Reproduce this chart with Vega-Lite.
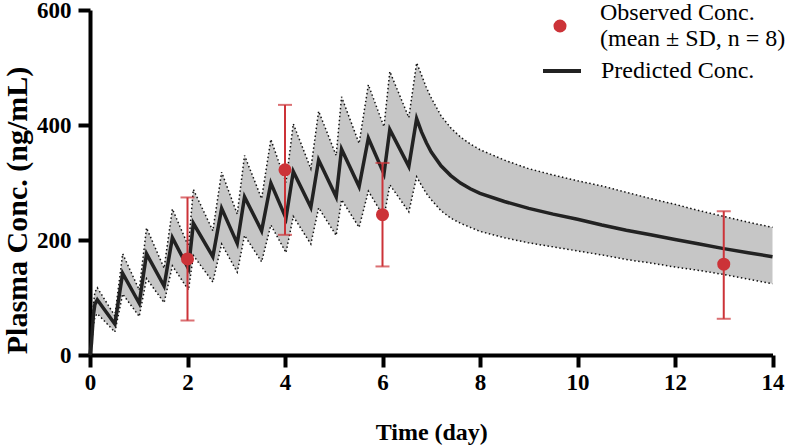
{
  "$schema": "https://vega.github.io/schema/vega-lite/v6.json",
  "width": 682.5,
  "height": 345,
  "autosize": "none",
  "padding": {"left": 90, "top": 10, "right": 14.5, "bottom": 91},
  "background": "white",
  "datasets": {
    "pred": [
      {"t": 0, "pred": 0, "lo": 0, "hi": 0},
      {"t": 0.03, "pred": 20, "lo": 15, "hi": 25},
      {"t": 0.07, "pred": 70, "lo": 52, "hi": 87},
      {"t": 0.1, "pred": 88, "lo": 66, "hi": 109},
      {"t": 0.15, "pred": 96, "lo": 72, "hi": 117},
      {"t": 0.51, "pred": 54, "lo": 40, "hi": 68},
      {"t": 0.67, "pred": 142, "lo": 106, "hi": 176},
      {"t": 1.01, "pred": 90, "lo": 67, "hi": 113},
      {"t": 1.16, "pred": 176, "lo": 133, "hi": 221},
      {"t": 1.52, "pred": 120, "lo": 91, "hi": 151},
      {"t": 1.69, "pred": 204, "lo": 155, "hi": 254},
      {"t": 2.02, "pred": 150, "lo": 113, "hi": 189},
      {"t": 2.12, "pred": 229, "lo": 173, "hi": 288},
      {"t": 2.52, "pred": 171, "lo": 127, "hi": 216},
      {"t": 2.7, "pred": 255, "lo": 193, "hi": 318},
      {"t": 3.02, "pred": 194, "lo": 144, "hi": 245},
      {"t": 3.17, "pred": 275, "lo": 208, "hi": 347},
      {"t": 3.52, "pred": 216, "lo": 162, "hi": 272},
      {"t": 3.71, "pred": 299, "lo": 226, "hi": 375},
      {"t": 4.02, "pred": 238, "lo": 178, "hi": 300},
      {"t": 4.17, "pred": 319, "lo": 241, "hi": 402},
      {"t": 4.53, "pred": 257, "lo": 193, "hi": 324},
      {"t": 4.69, "pred": 339, "lo": 256, "hi": 424},
      {"t": 5.05, "pred": 275, "lo": 208, "hi": 347},
      {"t": 5.16, "pred": 358, "lo": 270, "hi": 449},
      {"t": 5.52, "pred": 293, "lo": 222, "hi": 368},
      {"t": 5.71, "pred": 377, "lo": 285, "hi": 470},
      {"t": 6.03, "pred": 315, "lo": 240, "hi": 397},
      {"t": 6.15, "pred": 392, "lo": 296, "hi": 493},
      {"t": 6.54, "pred": 328, "lo": 249, "hi": 413},
      {"t": 6.7, "pred": 411, "lo": 310, "hi": 508},
      {"t": 6.8, "pred": 388, "lo": 295, "hi": 487},
      {"t": 6.9, "pred": 369, "lo": 281, "hi": 465},
      {"t": 7.0, "pred": 353, "lo": 270, "hi": 447},
      {"t": 7.2, "pred": 329, "lo": 251, "hi": 416},
      {"t": 7.4, "pred": 312, "lo": 238, "hi": 395},
      {"t": 7.6, "pred": 299, "lo": 229, "hi": 379},
      {"t": 7.8, "pred": 289, "lo": 222, "hi": 367},
      {"t": 8.0, "pred": 281, "lo": 215, "hi": 357},
      {"t": 8.5, "pred": 267, "lo": 204, "hi": 339},
      {"t": 9.0, "pred": 255, "lo": 195, "hi": 324},
      {"t": 9.5, "pred": 245, "lo": 188, "hi": 313},
      {"t": 10.0, "pred": 236, "lo": 181, "hi": 303},
      {"t": 10.5, "pred": 226, "lo": 174, "hi": 294},
      {"t": 11.0, "pred": 217, "lo": 166, "hi": 283},
      {"t": 11.5, "pred": 209, "lo": 160, "hi": 272},
      {"t": 12.0, "pred": 201, "lo": 153, "hi": 262},
      {"t": 12.5, "pred": 193, "lo": 147, "hi": 251},
      {"t": 13.0, "pred": 185, "lo": 140, "hi": 241},
      {"t": 13.5, "pred": 178, "lo": 132, "hi": 231},
      {"t": 14.0, "pred": 171, "lo": 124, "hi": 222}
    ],
    "obs": [
      {"t": 2, "mean": 167, "lo": 60, "hi": 274},
      {"t": 4, "mean": 322, "lo": 209, "hi": 435},
      {"t": 6, "mean": 244, "lo": 154, "hi": 334},
      {"t": 13, "mean": 158, "lo": 63, "hi": 250}
    ]
  },
  "config": {
    "view": {"stroke": null},
    "font": "Liberation Serif",
    "axis": {
      "grid": false,
      "domainColor": "#000",
      "domainWidth": 4,
      "tickColor": "#000",
      "tickWidth": 4,
      "tickSize": 12,
      "labelFont": "Liberation Serif",
      "labelFontWeight": "bold",
      "labelFontSize": 23,
      "labelColor": "#000",
      "titleFont": "Liberation Serif",
      "titleFontWeight": "bold",
      "titleFontSize": 24,
      "titleColor": "#000"
    },
    "legend": {
      "title": null,
      "padding": 0,
      "labelFont": "Liberation Serif",
      "labelFontSize": 24,
      "labelColor": "#000",
      "labelLimit": 400
    }
  },
  "encoding": {
    "x": {
      "field": "t",
      "type": "quantitative",
      "scale": {"domain": [0, 14], "nice": false},
      "axis": {"values": [0, 2, 4, 6, 8, 10, 12, 14], "title": "Time (day)", "labelPadding": 4, "titlePadding": 26, "labelFlush": false}
    }
  },
  "layer": [
    {
      "data": {"name": "pred"},
      "mark": {"type": "area", "color": "#c6c6c6", "opacity": 1},
      "encoding": {
        "y": {
          "field": "lo",
          "type": "quantitative",
          "scale": {"domain": [0, 600], "nice": false},
          "axis": {"values": [0, 200, 400, 600], "title": "Plasma Conc.  (ng/mL)", "titleFontSize": 30, "labelPadding": 7, "titleX": -73, "titleY": 200, "titleAlign": "center", "titleBaseline": "middle", "titleAngle": -90}
        },
        "y2": {"field": "hi"}
      }
    },
    {
      "data": {"name": "pred"},
      "mark": {"type": "line", "color": "#111", "strokeWidth": 1.5, "strokeDash": [1.5, 2.5]},
      "encoding": {"y": {"field": "hi", "type": "quantitative"}}
    },
    {
      "data": {"name": "pred"},
      "mark": {"type": "line", "color": "#111", "strokeWidth": 1.5, "strokeDash": [1.5, 2.5]},
      "encoding": {"y": {"field": "lo", "type": "quantitative"}}
    },
    {
      "data": {"name": "pred"},
      "mark": {"type": "line", "strokeWidth": 3.5, "strokeJoin": "miter"},
      "encoding": {
        "y": {"field": "pred", "type": "quantitative"},
        "stroke": {
          "datum": "Predicted",
          "scale": {"domain": ["Predicted"], "range": ["#222222"]},
          "legend": {
            "orient": "none",
            "legendX": 451,
            "legendY": 40,
            "symbolType": "stroke",
            "symbolSize": 1444,
            "symbolStrokeWidth": 4,
            "labelOffset": 18,
            "labelExpr": "'Predicted Conc.'"
          }
        }
      }
    },
    {
      "data": {"name": "obs"},
      "mark": {"type": "rule", "color": "#cc3338", "strokeWidth": 2},
      "encoding": {"y": {"field": "lo", "type": "quantitative"}, "y2": {"field": "hi"}}
    },
    {
      "data": {"name": "obs"},
      "mark": {"type": "tick", "orient": "horizontal", "color": "#cc3338", "size": 14, "thickness": 2},
      "encoding": {"y": {"field": "lo", "type": "quantitative"}}
    },
    {
      "data": {"name": "obs"},
      "mark": {"type": "tick", "orient": "horizontal", "color": "#cc3338", "size": 14, "thickness": 2},
      "encoding": {"y": {"field": "hi", "type": "quantitative"}}
    },
    {
      "data": {"name": "obs"},
      "mark": {"type": "point", "filled": true, "opacity": 1, "size": 170, "shape": "circle"},
      "encoding": {
        "y": {"field": "mean", "type": "quantitative"},
        "fill": {
          "datum": "Observed",
          "scale": {"domain": ["Observed"], "range": ["#cc3338"]},
          "legend": {
            "orient": "none",
            "legendX": 458,
            "legendY": 4,
            "symbolType": "circle",
            "symbolSize": 170,
            "symbolOpacity": 1,
            "labelOffset": 28,
            "labelBaseline": "line-bottom",
            "labelExpr": "['Observed Conc.', '(mean ± SD, n = 8)']"
          }
        }
      }
    }
  ]
}
